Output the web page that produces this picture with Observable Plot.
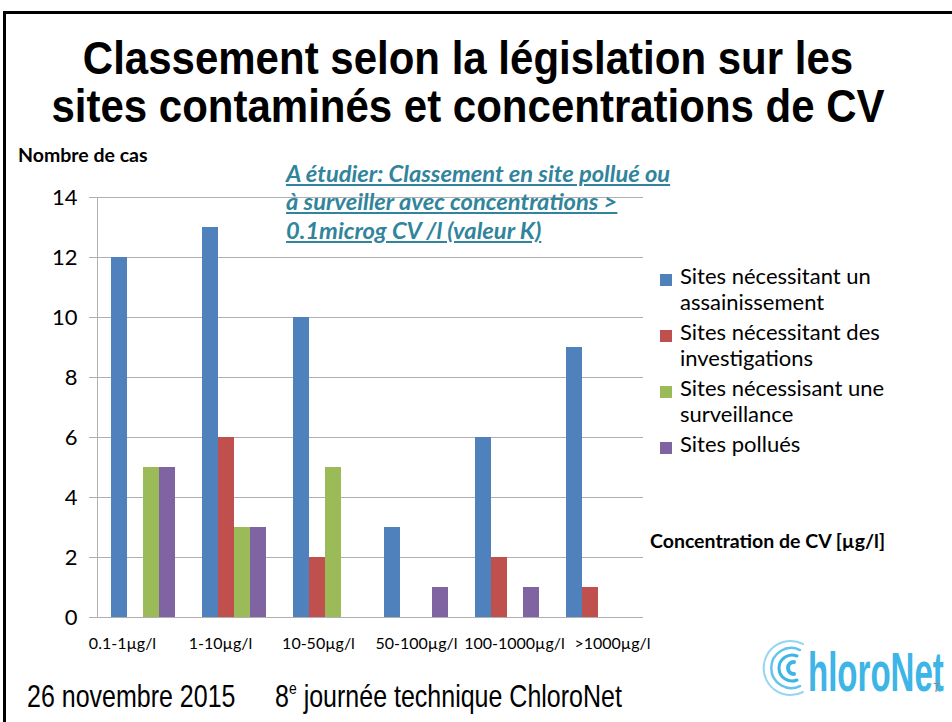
<!DOCTYPE html>
<html><head><meta charset="utf-8">
<script src="https://cdn.jsdelivr.net/npm/d3@7"></script>
<script src="https://cdn.jsdelivr.net/npm/@observablehq/plot@0.6"></script>
<style>
html,body{margin:0;padding:0;background:#fff;}
#page{position:relative;width:952px;height:722px;overflow:hidden;background:#fff;font-family:Lato,"Open Sans",sans-serif;color:#000;}
#border{position:absolute;left:3px;top:11px;width:1000px;height:1000px;border-top:3px solid #000;border-left:3px solid #000;}
#title{position:absolute;left:4px;width:928px;top:34px;text-align:center;font:bold 42px/43px "Liberation Sans",Arial,sans-serif;transform:scaleY(1.12);transform-origin:top;}
#ylab{position:absolute;left:18px;top:143px;font:bold 19.5px/23px Lato,sans-serif;}
#xlab{position:absolute;left:650px;top:529px;font:bold 19.5px/23px Lato,sans-serif;}
#base,#bars{position:absolute;left:0;top:150px;}
#base svg line,#base svg path{stroke:#b0b0b0;}
#base svg [aria-label^="y-axis"] text{font-size:22px;}
#base svg [aria-label^="x-axis"] text{font-size:16px;}
#note{position:absolute;left:286px;top:158.5px;font:italic bold 23.7px/28.5px Lato,sans-serif;color:#31849B;text-decoration:underline;white-space:nowrap;}
#legend{position:absolute;left:660px;top:263px;width:250px;}
.li{display:flex;align-items:flex-start;margin-bottom:4px;}
.sw{width:12px;height:12px;margin-top:11px;margin-right:8px;flex:none;}
.lt{font:22px/26px Lato,sans-serif;width:215px;}
#foot1,#foot2{position:absolute;top:677.5px;font:25px/30px "Liberation Sans",Arial,sans-serif;transform:scaleY(1.22);transform-origin:top;white-space:nowrap;}
#foot1{left:27px;}
#foot2{left:275px;}
#foot2 sup{font-size:14px;vertical-align:11px;line-height:0;}
#logo{position:absolute;left:0;top:0;}
</style></head>
<body>
<div id="page">
  <div id="border"></div>
  <div id="title">Classement selon la législation sur les<br>sites contaminés et concentrations de CV</div>
  <div id="base"></div>
  <div id="bars"></div>
  <div id="ylab">Nombre de cas</div>
  <div id="note">A étudier: Classement en site pollué ou<br>à surveiller avec concentrations &gt;<br>0.1microg CV /l (valeur K)</div>
  <div id="legend"></div>
  <div id="xlab">Concentration de CV [µg/l]</div>
  <div id="foot1">26 novembre 2015</div>
  <div id="foot2">8<sup>e</sup> journée technique ChloroNet</div>
  <svg id="logo" width="952" height="722">
    <g fill="none" stroke="#3DB5E6" stroke-linecap="round">
      <path d="M 794 662 A 6 6 0 1 0 794 674" stroke-width="4"/>
      <path d="M 797 656 A 13 13 0 1 0 797 680" stroke-width="3"/>
      <path d="M 800 650 A 20 20 0 1 0 800 686" stroke-width="2.5" opacity="0.8"/>
      <path d="M 803 644 A 27 27 0 1 0 803 692" stroke-width="2" opacity="0.55"/>
    </g>
    <text transform="translate(808,691) scale(0.59,1)" font-family="Liberation Sans, Arial, sans-serif" font-weight="bold" font-size="56" fill="#3DB5E6">hloroNet</text>
    <text x="933" y="692" font-family="Liberation Sans, Arial, sans-serif" font-size="13" fill="#8a8a8a">7</text>
  </svg>
</div>
<script>
const categories = ["0.1-1µg/l","1-10µg/l","10-50µg/l","50-100µg/l","100-1000µg/l",">1000µg/l"];
const series = ["Sites nécessitant un assainissement","Sites nécessitant des investigations","Sites nécessisant une surveillance","Sites pollués"];
const assainissement = [12,13,10,3,6,9];
const investigations = [0,6,2,0,2,1];
const surveillance = [5,3,5,0,0,0];
const pollues = [5,3,0,1,1,0];
const colors = ["#4F81BD","#C0504D","#9BBB59","#8064A2"];
const yTicks = [0,2,4,6,8,10,12,14];

const values = [assainissement, investigations, surveillance, pollues];
const rows = categories.flatMap((c,i) => series.map((s,j) => ({cat:c, series:s, value:values[j][i]}))).filter(d => d.value > 0);

const dims = {width:660, height:510, marginLeft:97, marginRight:17, marginTop:47, marginBottom:43};

// axes, gridlines and category labels (labels spread as in the source slide)
const base = Plot.plot({
  ...dims,
  style:{background:"transparent", fontFamily:"Lato, sans-serif", fontSize:"16px", color:"#000", overflow:"visible"},
  x:{type:"band", domain:categories, range:[70.6, 663.4], padding:0, tickSize:0, tickPadding:20, label:null},
  y:{domain:[0,14], ticks:yTicks, tickSize:8, tickPadding:12, label:null, line:true},
  marks:[
    Plot.ruleY(yTicks, {stroke:"#b0b0b0"})
  ]
});
document.getElementById("base").appendChild(base);

// clustered bars
const bars = Plot.plot({
  ...dims,
  style:{background:"transparent", fontFamily:"Lato, sans-serif", fontSize:"16px", color:"#000", overflow:"visible"},
  facet:{data:rows, x:"cat"},
  fx:{domain:categories, paddingInner:0.275, paddingOuter:0.1375, axis:null},
  x:{domain:series, padding:0, axis:null},
  y:{domain:[0,14], axis:null},
  color:{domain:series, range:colors},
  marks:[
    Plot.barY(rows, {x:"series", y:"value", fill:"series"})
  ]
});
document.getElementById("bars").appendChild(bars);

const legend = document.getElementById("legend");
series.forEach((s,i) => {
  const li = document.createElement("div"); li.className = "li";
  const sw = document.createElement("div"); sw.className = "sw"; sw.style.background = colors[i];
  const lt = document.createElement("div"); lt.className = "lt"; lt.textContent = s;
  li.appendChild(sw); li.appendChild(lt); legend.appendChild(li);
});
</script>
</body></html>
